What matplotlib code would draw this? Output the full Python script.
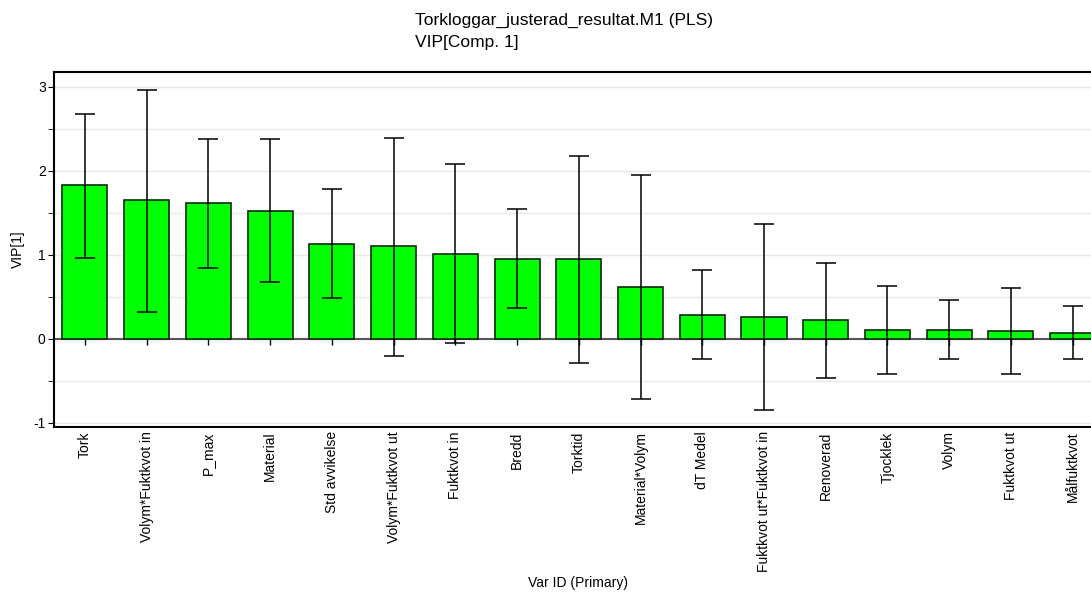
import numpy as np
import matplotlib
matplotlib.use("Agg")
import matplotlib.pyplot as plt
from matplotlib.ticker import MultipleLocator

plt.rcParams["font.family"] = ["Liberation Sans", "DejaVu Sans"]
plt.rcParams["axes.unicode_minus"] = False

# ── DATA ──────────────────────────────────────────────────
variables = ["Tork", "Volym*Fuktkvot in", "P_max", "Material", "Std avvikelse",
             "Volym*Fuktkvot ut", "Fuktkvot in", "Bredd", "Torktid", "Material*Volym",
             "dT Medel", "Fuktkvot ut*Fuktkvot in", "Renoverad", "Tjocklek", "Volym",
             "Fuktkvot ut", "Målfuktkvot"]
vip = [1.83, 1.652, 1.621, 1.526, 1.134, 1.107, 1.016, 0.953, 0.953, 0.62,
       0.289, 0.257, 0.229, 0.111, 0.111, 0.091, 0.075]
err_high = [2.68, 2.964, 2.375, 2.375, 1.787, 2.395, 2.087, 1.542, 2.18, 1.953,
            0.818, 1.364, 0.909, 0.636, 0.458, 0.605, 0.395]
err_low = [0.968, 0.316, 0.846, 0.68, 0.482, -0.198, -0.047, 0.364, -0.285, -0.711,
           -0.245, -0.85, -0.47, -0.423, -0.245, -0.423, -0.245]

# ── PLOT ──────────────────────────────────────────────────
vip = np.array(vip)
x = np.arange(len(variables))
yerr = np.vstack([vip - np.array(err_low), np.array(err_high) - vip])

fig = plt.figure(figsize=(10.91, 5.99), dpi=100)
ax = fig.add_axes([0.0495, 0.287, 0.962, 0.593])

ax.set_axisbelow(True)
ax.grid(axis="y", which="both", color="#e8e8e8", linewidth=1.0)
ax.axhline(0, color="#555555", linewidth=1.5, zorder=1.5)

ax.bar(x, vip, width=0.73, color="#00ff00", edgecolor="#0a2a0a", linewidth=1.2, zorder=2)
ax.errorbar(x, vip, yerr=yerr, fmt="none", ecolor="black", elinewidth=1.1,
            capsize=7, capthick=1.1, zorder=3)
# small tick marks on the zero line
ax.plot(x, np.zeros(len(x)), ls="none", marker=3, color="black", ms=4, mew=1, zorder=1.6)

ax.set_xlim(-0.5, len(variables) - 0.5)
ax.set_ylim(-1.05, 3.18)
ax.yaxis.set_major_locator(MultipleLocator(1))
ax.yaxis.set_minor_locator(MultipleLocator(0.5))
ax.tick_params(axis="y", which="both", direction="out", length=4, labelsize=10, pad=2)
ax.tick_params(axis="x", length=0, labelsize=10, pad=3)
ax.set_xticks(x)
ax.set_xticklabels(variables, rotation=90, va="top", ha="center")

for s in ["top", "left", "bottom", "right"]:
    ax.spines[s].set_linewidth(1.5)

ax.set_ylabel("VIP[1]", fontsize=10, labelpad=6)
fig.text(0.53, 0.015, "Var ID (Primary)", ha="center", va="bottom", fontsize=10)
fig.text(0.38, 0.966, "Torkloggar_justerad_resultat.M1 (PLS)", ha="left", va="center", fontsize=12.5)
fig.text(0.38, 0.929, "VIP[Comp. 1]", ha="left", va="center", fontsize=12.5)

plt.savefig("out.png", dpi=100)
